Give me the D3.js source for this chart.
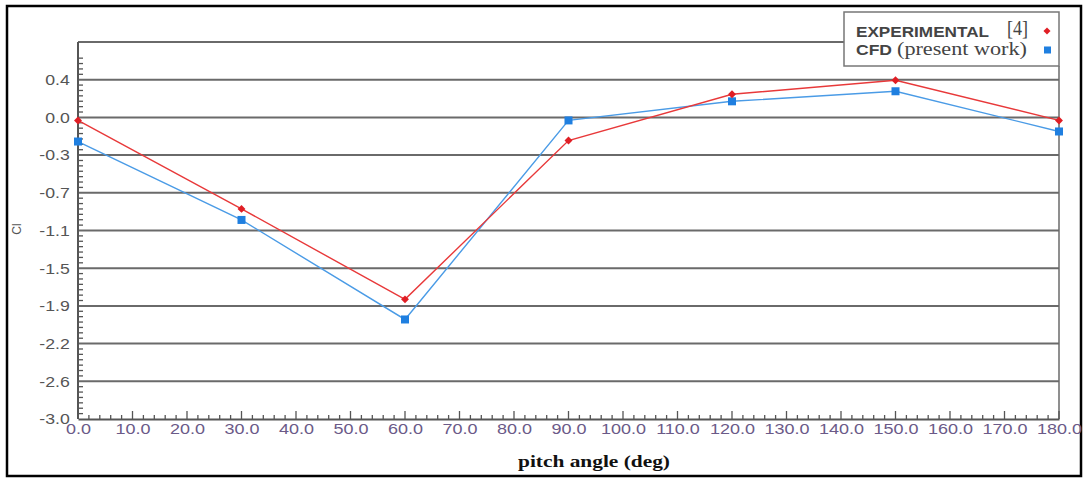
<!DOCTYPE html>
<html>
<head>
<meta charset="utf-8">
<script src="https://cdn.jsdelivr.net/npm/d3@7/dist/d3.min.js"></script>
<style>
  html, body { margin: 0; padding: 0; background: #fff; }
  svg { display: block; }
</style>
</head>
<body>
<svg id="chart" width="1089" height="481"></svg>
<script>
// Pitch angle (deg) and lift coefficient values
const pitchAngles = [0, 30, 60, 90, 120, 150, 180];
const clExperimental = [-0.03, -0.91, -1.81, -0.23, 0.23, 0.37, -0.03];
const clCfd = [-0.24, -1.02, -2.01, -0.03, 0.16, 0.26, -0.14];

// Y axis grid values and their printed labels
const yTickValues = [-3.0, -2.625, -2.25, -1.875, -1.5, -1.125, -0.75, -0.375, 0.0, 0.375, 0.75];
const yTickLabels = ["-3.0", "-2.6", "-2.2", "-1.9", "-1.5", "-1.1", "-0.7", "-0.3", "0.0", "0.4", ""];
const xTickValues = d3.range(0, 181, 10);

(function draw() {
  const svg = d3.select("#chart");
  const plotLeft = 78, plotRight = 1059, plotTop = 42, plotBottom = 419;
  const sans = "Liberation Sans, Arial, sans-serif";
  const serif = "Liberation Serif, Times New Roman, serif";

  const x = d3.scaleLinear().domain([0, 180]).range([plotLeft, plotRight]);
  const y = d3.scaleLinear().domain([-3.0, 0.75]).range([plotBottom, plotTop]);

  // outer frame
  svg.append("rect")
    .attr("x", 7).attr("y", 6).attr("width", 1074).attr("height", 470)
    .attr("fill", "#fff").attr("stroke", "#000").attr("stroke-width", 2.5);

  // horizontal grid lines
  svg.append("g").selectAll("line")
    .data(yTickValues.slice(1))
    .join("line")
    .attr("x1", plotLeft).attr("x2", d => d === 0.75 ? 844 : plotRight)
    .attr("y1", d => y(d)).attr("y2", d => y(d))
    .attr("stroke", "#6a6a6a").attr("stroke-width", 2);

  // right plot edge
  svg.append("line")
    .attr("x1", plotRight).attr("x2", plotRight).attr("y1", 66).attr("y2", plotBottom)
    .attr("stroke", "#6a6a6a").attr("stroke-width", 1.5);

  // minor ticks on y axis (7 per interval)
  const yMinor = [];
  for (let i = 0; i < yTickValues.length - 1; i++) {
    for (let k = 1; k < 7; k++) {
      yMinor.push(yTickValues[i] + (yTickValues[i + 1] - yTickValues[i]) * k / 7);
    }
  }
  svg.append("g").selectAll("line")
    .data(yMinor.filter(v => v < 0.6))
    .join("line")
    .attr("x1", plotLeft).attr("x2", plotLeft + 5)
    .attr("y1", d => y(d)).attr("y2", d => y(d))
    .attr("stroke", "#555").attr("stroke-width", 1.3);

  // y axis line
  svg.append("line")
    .attr("x1", plotLeft).attr("x2", plotLeft).attr("y1", plotTop).attr("y2", plotBottom)
    .attr("stroke", "#555").attr("stroke-width", 2);

  // y tick labels (slightly wide lettering)
  const yAxis = d3.axisLeft(y)
    .tickValues(yTickValues)
    .tickSize(0)
    .tickPadding(7)
    .tickFormat((d, i) => yTickLabels[i]);
  const gy = svg.append("g").attr("transform", `translate(${plotLeft},0)`).call(yAxis);
  gy.select(".domain").remove();
  gy.selectAll("text")
    .attr("font-family", sans)
    .attr("font-size", 15).attr("fill", "#555")
    .attr("transform", "scale(1.18,1)");

  // x axis with minor ticks every 2 deg
  const xMinor = d3.range(0, 181, 2).filter(v => v % 10 !== 0);
  svg.append("g").selectAll("line")
    .data(xMinor)
    .join("line")
    .attr("x1", d => x(d)).attr("x2", d => x(d))
    .attr("y1", plotBottom).attr("y2", plotBottom - 4)
    .attr("stroke", "#555").attr("stroke-width", 1.3);

  const xAxis = d3.axisBottom(x)
    .tickValues(xTickValues)
    .tickSize(0)
    .tickPadding(4)
    .tickFormat(d3.format(".1f"));
  const gx = svg.append("g").attr("transform", `translate(0,${plotBottom})`).call(xAxis);
  gx.select(".domain").attr("stroke", "#555").attr("stroke-width", 2);
  gx.selectAll("text")
    .attr("font-family", sans)
    .attr("font-size", 15).attr("fill", "#6b5a88")
    .attr("transform", "scale(1.2,1)");
  svg.append("g").selectAll("line")
    .data(xTickValues)
    .join("line")
    .attr("x1", d => x(d)).attr("x2", d => x(d))
    .attr("y1", plotBottom).attr("y2", plotBottom - 8)
    .attr("stroke", "#555").attr("stroke-width", 1.3);

  // axis titles
  svg.append("text")
    .attr("x", 518).attr("y", 467)
    .attr("textLength", 152).attr("lengthAdjust", "spacingAndGlyphs")
    .attr("font-family", serif)
    .attr("font-weight", "bold").attr("font-size", 17)
    .attr("fill", "#111")
    .text("pitch angle (deg)");

  svg.append("text")
    .attr("transform", "translate(21,229) rotate(-90)")
    .attr("text-anchor", "middle")
    .attr("font-family", sans)
    .attr("font-size", 12).attr("fill", "#555")
    .text("Cl");

  // series lines
  const line = d3.line().x((d, i) => x(pitchAngles[i])).y(d => y(d));
  svg.append("path").datum(clCfd)
    .attr("d", line).attr("fill", "none")
    .attr("stroke", "#4a9be6").attr("stroke-width", 1.4);
  svg.append("path").datum(clExperimental)
    .attr("d", line).attr("fill", "none")
    .attr("stroke", "#e8393a").attr("stroke-width", 1.4);

  // markers
  svg.append("g").selectAll("rect")
    .data(clCfd)
    .join("rect")
    .attr("x", (d, i) => x(pitchAngles[i]) - 4)
    .attr("y", d => y(d) - 4)
    .attr("width", 8).attr("height", 8)
    .attr("fill", "#1f7fe0");
  const diamond = d3.symbol().type(d3.symbolDiamond2).size(40);
  svg.append("g").selectAll("path")
    .data(clExperimental)
    .join("path")
    .attr("d", diamond)
    .attr("transform", (d, i) => `translate(${x(pitchAngles[i])},${y(d)})`)
    .attr("fill", "#e01e25");

  // legend
  const legend = svg.append("g");
  legend.append("rect")
    .attr("x", 844).attr("y", 12).attr("width", 215).attr("height", 54)
    .attr("fill", "#fff").attr("stroke", "#777").attr("stroke-width", 1.5);

  const legendText = [
    { text: "EXPERIMENTAL", x: 856, y: 37, w: 133, font: sans, bold: true, size: 15 },
    { text: "[4]", x: 1007, y: 35, w: 21, font: serif, bold: false, size: 21 },
    { text: "CFD", x: 856, y: 55, w: 36, font: sans, bold: true, size: 15 },
    { text: "(present work)", x: 897, y: 55, w: 130, font: serif, bold: false, size: 18 }
  ];
  legend.selectAll("text.item")
    .data(legendText)
    .join("text")
    .attr("class", "item")
    .attr("x", d => d.x).attr("y", d => d.y)
    .attr("textLength", d => d.w).attr("lengthAdjust", "spacingAndGlyphs")
    .attr("font-family", d => d.font)
    .attr("font-weight", d => d.bold ? "bold" : "normal")
    .attr("font-size", d => d.size)
    .attr("fill", "#444")
    .text(d => d.text);

  legend.append("path")
    .attr("d", d3.symbol().type(d3.symbolDiamond2).size(32))
    .attr("transform", "translate(1047,31)")
    .attr("fill", "#e01e25");
  legend.append("rect")
    .attr("x", 1044).attr("y", 46.5).attr("width", 7).attr("height", 7)
    .attr("fill", "#1f7fe0");
})();
</script>
</body>
</html>
